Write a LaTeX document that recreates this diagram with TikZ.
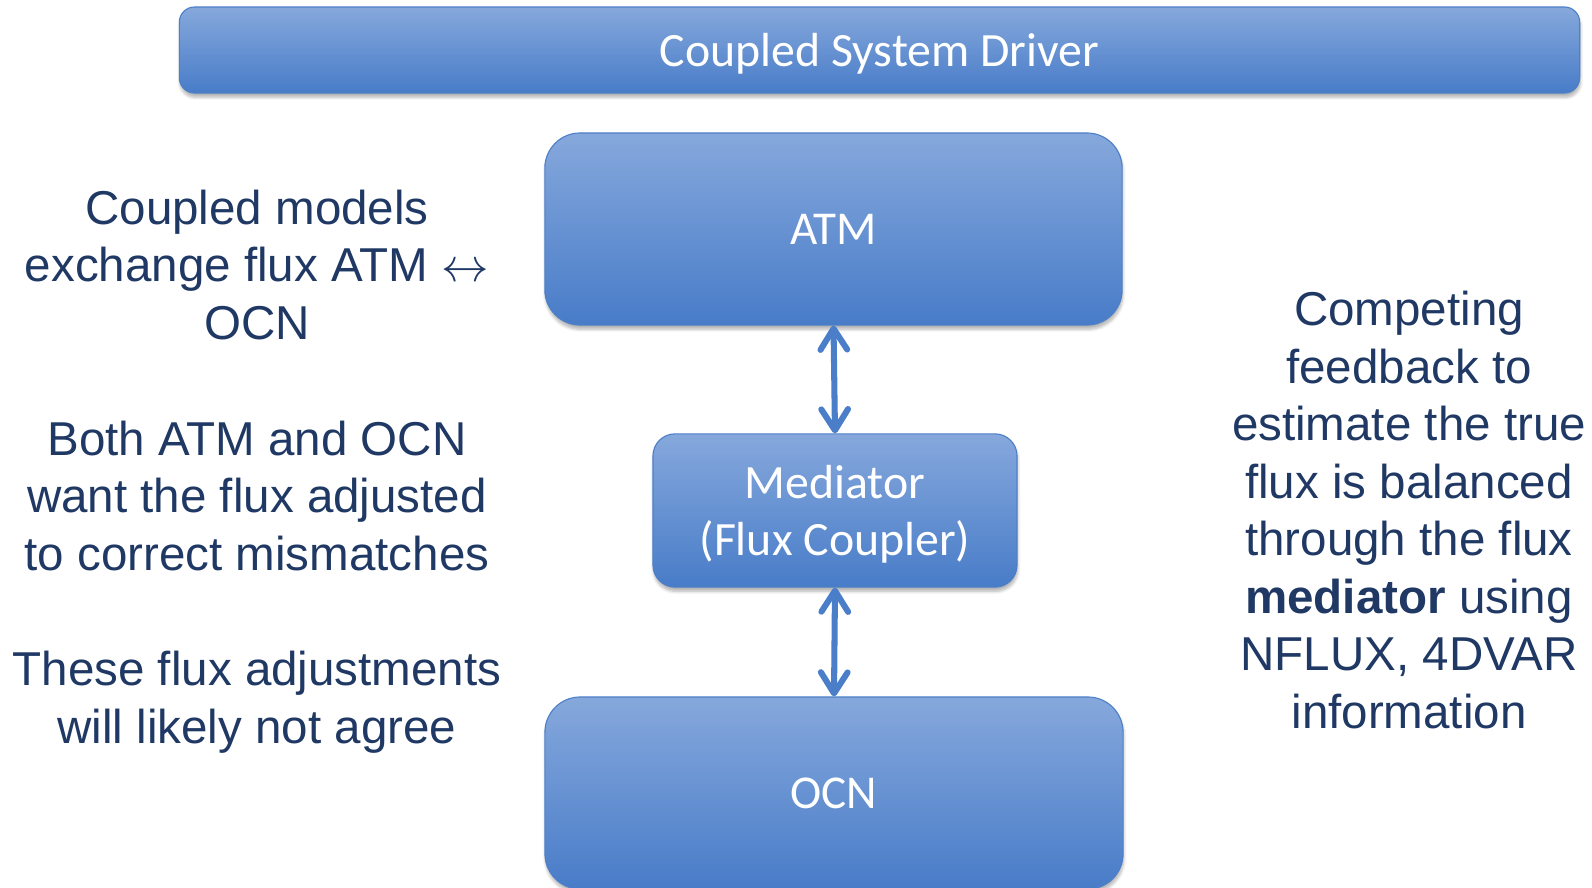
\RequirePackage{fix-cm}
\documentclass[tikz,border=0pt]{standalone}
\usepackage{fontspec}
\setmainfont{Liberation Sans}
\newfontfamily\boxfont{Carlito}
\usetikzlibrary{arrows.meta, calc, positioning, shadows.blur}
\definecolor{boxtop}{RGB}{134,168,220}
\definecolor{boxbot}{RGB}{72,124,200}
\definecolor{boxedge}{RGB}{78,128,200}
\definecolor{navy}{RGB}{31,56,100}
\definecolor{fluxblue}{RGB}{74,126,200}

\begin{document}
\begin{tikzpicture}[x=0.025cm, y=-0.025cm,
	blockbox/.style={draw=boxedge, line width=0.8pt, top color=boxtop, bottom color=boxbot,
		text=white, align=center, inner sep=0pt, text depth=0pt,
		blur shadow={shadow xshift=0.5pt, shadow yshift=-3pt, shadow blur steps=6, shadow opacity=30}},
	note/.style={text=navy, align=center, inner sep=0pt, font=\fontsize{33.8}{40.9}\selectfont},
	fluxarrow/.style={draw=fluxblue, line width=4.3pt, line cap=round,
		{Straight Barb[length=15pt, width=19pt, round]}-{Straight Barb[length=15pt, width=19pt, round]}}
]
	\useasboundingbox (0,0) rectangle (1592,888);

	\coordinate (D) at (879.5,50);
	\coordinate (A) at (833.5,229);
	\coordinate (M) at (835,510.5);
	\coordinate (O) at (834,793);

	\node[blockbox, minimum width=35.0cm, minimum height=2.15cm, rounded corners=0.38cm,
		font=\boxfont\fontsize{34}{40}\selectfont] (driver) at (D) {Coupled System Driver};
	\node[blockbox, minimum width=14.43cm, minimum height=4.8cm, rounded corners=0.88cm,
		font=\boxfont\fontsize{33.5}{40}\selectfont] (atm) at (A) {ATM};
	\node[blockbox, minimum width=9.1cm, minimum height=3.83cm, rounded corners=0.55cm,
		font=\boxfont\fontsize{34}{40.5}\selectfont] (med) at (M) {Mediator\\(Flux Coupler)};
	\node[blockbox, minimum width=14.45cm, minimum height=4.8cm, rounded corners=0.88cm,
		font=\boxfont\fontsize{33.5}{40}\selectfont] (ocn) at (O) {OCN};

	\node[note] (exch) at (257,265) {Coupled models\\exchange flux ATM $\leftrightarrow$\\OCN};
	\node[note] (adjust) at (257,496) {Both ATM and OCN\\want the flux adjusted\\to correct mismatches};
	\node[note] (agree) at (257,702) {These flux adjustments\\will likely not agree};
	\node[note] (compete) at (1409,510) {Competing\\feedback to\\estimate the true\\flux is balanced\\through the flux\\\textbf{mediator} using\\NFLUX, 4DVAR\\information};

	\draw[fluxarrow] (atm.south) -- (med.north);
	\draw[fluxarrow] (med.south) -- (ocn.north);
\end{tikzpicture}
\end{document}
